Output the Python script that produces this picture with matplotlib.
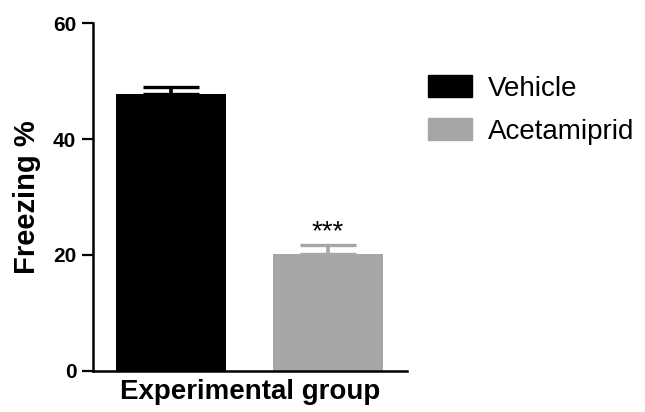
import numpy as np
import matplotlib
matplotlib.use('Agg')
import matplotlib.pyplot as plt
from matplotlib.patches import Patch

plt.rcParams['font.family'] = ['Liberation Sans', 'DejaVu Sans']

# ── 데이터 ──────────────────────────────────────────────
groups = ["Vehicle", "Acetamiprid"]
means = [47.8, 20.1]
sems = [1.2, 1.6]
colors = ["#000000", "#a6a6a6"]
sig_label = "***"
yticks = [0, 20, 40, 60]

# ── 그림 ────────────────────────────────────────────────
fig = plt.figure(figsize=(6.45, 4.12), dpi=100)
ax = fig.add_axes([93/645, 41/412, 314/645, 348/412])

x = np.arange(len(groups))
ax.bar(x, means, width=0.70, color=colors, zorder=2)
for xi, m, s, c in zip(x, means, sems, colors):
    ax.errorbar(xi, m, yerr=[[0], [s]], fmt='none', ecolor=c,
                elinewidth=2.6, capsize=20, capthick=2.4, zorder=1)

# 유의성 표시
ax.text(x[1], means[1] + sems[1] + 1.0, sig_label, ha='center',
        va='baseline', fontsize=20)

ax.set_xlim(-0.497, 1.503)
ax.set_ylim(0, 60)
ax.set_yticks(yticks)
ax.set_xticks([])
ax.spines['top'].set_visible(False)
ax.spines['right'].set_visible(False)
ax.spines['left'].set_linewidth(1.8)
ax.spines['bottom'].set_linewidth(1.8)
ax.tick_params(axis='y', direction='out', length=8, width=1.6, pad=4,
               labelsize=15)
for lab in ax.get_yticklabels():
    lab.set_fontweight('bold')

ax.set_ylabel("Freezing %", fontsize=21, fontweight='bold', labelpad=9)
ax.set_xlabel("Experimental group", fontsize=20, fontweight='bold', labelpad=6)

handles = [Patch(facecolor=c, edgecolor=c) for c in colors]
fig.legend(handles, groups, loc='upper left',
           bbox_to_anchor=(428/645, 1 - 75/412), frameon=False,
           fontsize=20, handlelength=1.58, handleheight=0.83,
           handletextpad=0.58, labelspacing=0.6, borderpad=0,
           borderaxespad=0)

plt.savefig("out.png", dpi=100)
plt.close()
